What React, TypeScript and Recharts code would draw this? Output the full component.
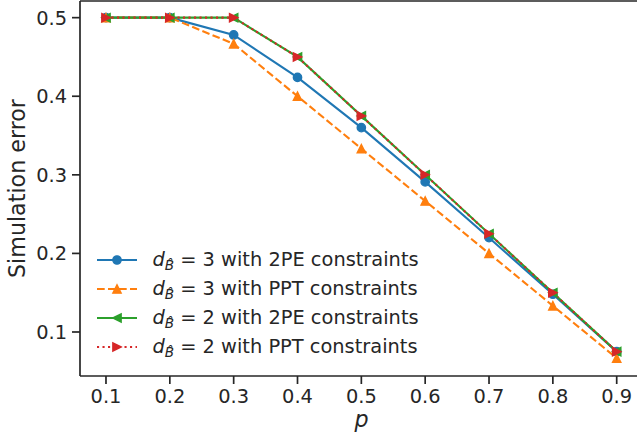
import React from "react";
import { LineChart, Line, XAxis, YAxis, ReferenceLine, Legend } from "recharts";

const pValues = [0.1, 0.2, 0.3, 0.4, 0.5, 0.6, 0.7, 0.8, 0.9];
const d3TwoPE = [0.5, 0.5, 0.478, 0.424, 0.36, 0.291, 0.22, 0.148, 0.075];
const d3PPT = [0.5, 0.5, 0.4667, 0.4, 0.3333, 0.2667, 0.2, 0.1333, 0.0667];
const d2TwoPE = [0.5, 0.5, 0.5, 0.45, 0.375, 0.3, 0.225, 0.15, 0.075];
const d2PPT = [0.5, 0.5, 0.5, 0.45, 0.375, 0.3, 0.225, 0.15, 0.075];
const xTicks = [0.1, 0.2, 0.3, 0.4, 0.5, 0.6, 0.7, 0.8, 0.9];
const yTicks = [0.1, 0.2, 0.3, 0.4, 0.5];

const X_DOMAIN: [number, number] = [0.0593, 0.9318];
const Y_DOMAIN: [number, number] = [0.044, 0.5212];

const INK = "#262626";
const FONT = "'DejaVu Sans', sans-serif";
const MS = 8.3; // marker size, px

const data = pValues.map((p, i) => ({
  p,
  d3TwoPE: d3TwoPE[i],
  d3PPT: d3PPT[i],
  d2TwoPE: d2TwoPE[i],
  d2PPT: d2PPT[i],
}));

type Shape = "circle" | "up" | "left" | "right";

function markerEl(shape: Shape, cx: number, cy: number, color: string, key?: string | number) {
  const h = MS / 2;
  if (shape === "circle") {
    return <circle key={key} cx={cx} cy={cy} r={h} fill={color} stroke={color} strokeWidth={1.4} />;
  }
  let pts = "";
  if (shape === "up") pts = `${cx},${cy - h} ${cx - h},${cy + h} ${cx + h},${cy + h}`;
  if (shape === "left") pts = `${cx - h},${cy} ${cx + h},${cy - h} ${cx + h},${cy + h}`;
  if (shape === "right") pts = `${cx + h},${cy} ${cx - h},${cy - h} ${cx - h},${cy + h}`;
  return <polygon key={key} points={pts} fill={color} stroke={color} strokeWidth={1.4} strokeLinejoin="miter" />;
}

const dotFor = (shape: Shape, color: string) => (props: any) => {
  const { cx, cy, index } = props;
  if (cx == null || cy == null) return <g key={`e${index}`} />;
  return markerEl(shape, cx, cy, color, `${shape}-${index}`);
};

const series = [
  { key: "d3TwoPE", d: "3", c: "2PE", color: "#1f77b4", shape: "circle" as Shape, dash: undefined },
  { key: "d3PPT", d: "3", c: "PPT", color: "#ff7f0e", shape: "up" as Shape, dash: "7.7 3.3" },
  { key: "d2TwoPE", d: "2", c: "2PE", color: "#2ca02c", shape: "left" as Shape, dash: undefined },
  { key: "d2PPT", d: "2", c: "PPT", color: "#d62728", shape: "right" as Shape, dash: "2.1 3.4" },
];

function LegendBox() {
  return (
    <div style={{ fontFamily: FONT, fontSize: 19.4, color: INK }}>
      {series.map((s) => (
        <div key={s.key} style={{ display: "flex", alignItems: "center", height: 29.1 }}>
          <svg width={40} height={20} style={{ display: "block" }}>
            <line x1={0} y1={10} x2={40} y2={10} stroke={s.color} strokeWidth={2.1} strokeDasharray={s.dash} />
            {markerEl(s.shape, 20, 10, s.color)}
          </svg>
          <span style={{ marginLeft: 15.4, whiteSpace: "nowrap" }}>
            <i>d</i>
            <span style={{ fontStyle: "italic", fontSize: "0.7em", position: "relative", top: "0.3em" }}>
              {"B\u0302"}
            </span>
            {` = ${s.d} with ${s.c} constraints`}
          </span>
        </div>
      ))}
    </div>
  );
}

export default function App() {
  const tickStyle = { fill: INK, fontSize: 19.4, fontFamily: FONT };
  return (
    <div style={{ position: "absolute", left: 0, top: 0, background: "#fff" }}>
      <LineChart width={637} height={445} data={data} margin={{ top: 1, right: 0, bottom: 0, left: 0 }}>
        <XAxis
          dataKey="p"
          type="number"
          domain={X_DOMAIN}
          allowDataOverflow
          ticks={xTicks}
          tickFormatter={(v: number) => v.toFixed(1)}
          height={69}
          tick={tickStyle}
          tickSize={8}
          tickMargin={5}
          axisLine={{ stroke: INK, strokeWidth: 1.7 }}
          tickLine={{ stroke: INK, strokeWidth: 1.7 }}
          label={{
            content: (props: any) => {
              const vb = props.viewBox;
              return (
                <text x={vb.x + vb.width / 2 + 3} y={427} textAnchor="middle" fill={INK} fontSize={22.2} fontFamily={FONT} fontStyle="italic">
                  p
                </text>
              );
            },
          }}
        />
        <YAxis
          type="number"
          domain={Y_DOMAIN}
          allowDataOverflow
          ticks={yTicks}
          tickFormatter={(v: number) => v.toFixed(1)}
          width={80}
          tick={tickStyle}
          tickSize={8}
          tickMargin={5}
          axisLine={{ stroke: INK, strokeWidth: 1.7 }}
          tickLine={{ stroke: INK, strokeWidth: 1.7 }}
          label={{
            content: (props: any) => {
              const vb = props.viewBox;
              const cy = vb.y + vb.height / 2;
              return (
                <text x={25} y={cy} transform={`rotate(-90, 25, ${cy})`} textAnchor="middle" fill={INK} fontSize={22.2} fontFamily={FONT}>
                  Simulation error
                </text>
              );
            },
          }}
        />
        <ReferenceLine y={Y_DOMAIN[1]} stroke={INK} strokeWidth={1.7} />
        {series.map((s) => (
          <Line
            key={s.key}
            dataKey={s.key}
            type="linear"
            stroke={s.color}
            strokeWidth={2.1}
            strokeDasharray={s.dash}
            dot={dotFor(s.shape, s.color)}
            activeDot={false}
            isAnimationActive={false}
          />
        ))}
        <Legend
          layout="vertical"
          align="center"
          verticalAlign="middle"
          content={() => <LegendBox />}
          wrapperStyle={{ left: 97, top: 245, width: "auto", height: "auto" }}
        />
      </LineChart>
    </div>
  );
}
